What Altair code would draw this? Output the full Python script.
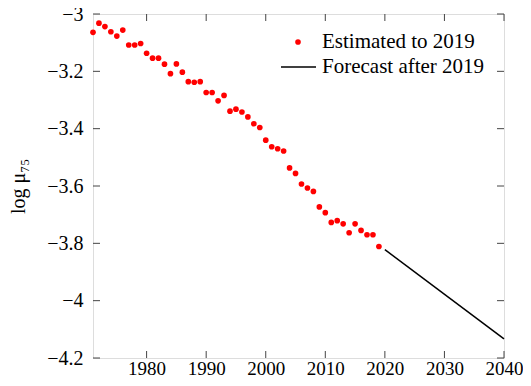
import altair as alt
import pandas as pd

# ---- data ----
years = list(range(1971, 2020))
log_mu75 = [
    -3.064, -3.032, -3.044, -3.062, -3.077, -3.056, -3.108, -3.108, -3.103, -3.137,
    -3.154, -3.154, -3.175, -3.208, -3.174, -3.203, -3.236, -3.238, -3.236, -3.274,
    -3.274, -3.303, -3.284, -3.339, -3.332, -3.342, -3.359, -3.383, -3.396, -3.440,
    -3.463, -3.470, -3.478, -3.537, -3.556, -3.593, -3.607, -3.619, -3.673, -3.693,
    -3.727, -3.721, -3.732, -3.763, -3.732, -3.755, -3.770, -3.770, -3.811,
]
forecast_years = [2020, 2040]
forecast_values = [-3.822, -4.133]
x_ticks = [1980, 1990, 2000, 2010, 2020, 2030, 2040]
y_ticks = [-4.2, -4.0, -3.8, -3.6, -3.4, -3.2, -3.0]
legend_labels = ["Estimated to 2019", "Forecast after 2019"]
y_title = "log μ₇₅"

W, H = 411, 344
FONT = "Liberation Serif"
FS = 20
XFS = 19
TL = 7

xs = alt.Scale(domain=[1971, 2040], nice=False, zero=False)
ys = alt.Scale(domain=[-4.2, -3.0], nice=False, zero=False)

x_axis = alt.Axis(values=x_ticks, format="d", ticks=False, domain=False, grid=False,
                  labelFlush=False, labelOverlap=False, labelBound=False,
                  labelBaseline="alphabetic",
                  labelFont=FONT, labelFontSize=XFS, labelColor="black", labelPadding=16)
y_axis = alt.Axis(values=y_ticks, format="~g", ticks=False, domain=False, grid=False,
                  labelFlush=False, labelOverlap=False, labelBound=False,
                  labelFont=FONT, labelFontSize=FS, labelColor="black", labelPadding=10,
                  titleFont=FONT, titleFontSize=FS, titleFontWeight="normal", titleColor="black",
                  titleAngle=270, titleBaseline="middle", titleX=-75, titleY=H / 2)


def X(f):
    return alt.X(f, scale=xs, axis=x_axis, title=None)


def Y(f):
    return alt.Y(f, scale=ys, axis=y_axis, title=y_title)


est = pd.DataFrame({"year": years, "v": log_mu75})
fc = pd.DataFrame({"year": forecast_years, "v": forecast_values})
xt = pd.DataFrame({"year": x_ticks})
yt = pd.DataFrame({"v": y_ticks})
leg = pd.DataFrame({"label": legend_labels})

points = alt.Chart(est).mark_circle(color="#ff0000", opacity=1, size=32).encode(
    x=X("year:Q"), y=Y("v:Q"))

line = alt.Chart(fc).mark_line(color="black", strokeWidth=1.5).encode(
    x=X("year:Q"), y=Y("v:Q"))

xb = alt.Chart(xt).mark_rule(color="#444", strokeWidth=1).encode(
    x=X("year:Q"), y=alt.value(H), y2=alt.value(H - TL))
xtop = alt.Chart(xt).mark_rule(color="#444", strokeWidth=1).encode(
    x=X("year:Q"), y=alt.value(0), y2=alt.value(TL))
yl = alt.Chart(yt).mark_rule(color="#444", strokeWidth=1).encode(
    y=Y("v:Q"), x=alt.value(0), x2=alt.value(TL))
yr = alt.Chart(yt).mark_rule(color="#444", strokeWidth=1).encode(
    y=Y("v:Q"), x=alt.value(W), x2=alt.value(W - TL))

# manual legend
leg_pt = alt.Chart(leg.iloc[[0]]).mark_circle(color="#ff0000", opacity=1, size=32).encode(
    x=alt.value(205), y=alt.value(28))
leg_ln = alt.Chart(leg.iloc[[1]]).mark_rule(color="black", strokeWidth=1.5).encode(
    x=alt.value(188), x2=alt.value(223), y=alt.value(53))
leg_tx1 = alt.Chart(leg.iloc[[0]]).mark_text(align="left", baseline="middle", font=FONT, fontSize=21,
                                             color="black").encode(
    x=alt.value(229), y=alt.value(28), text="label:N")
leg_tx2 = alt.Chart(leg.iloc[[1]]).mark_text(align="left", baseline="middle", font=FONT, fontSize=21,
                                             color="black").encode(
    x=alt.value(229), y=alt.value(53), text="label:N")

chart = alt.layer(points, line, xb, xtop, yl, yr, leg_pt, leg_ln, leg_tx1, leg_tx2).properties(
    width=W, height=H,
    autosize=alt.AutoSizeParams(type="none"),
    padding={"left": 85, "top": 6, "right": 19, "bottom": 20},
).configure_view(stroke="black", strokeWidth=1.2).configure(background="white")

chart.save("out.html", embed_options={"renderer": "svg", "actions": False})
